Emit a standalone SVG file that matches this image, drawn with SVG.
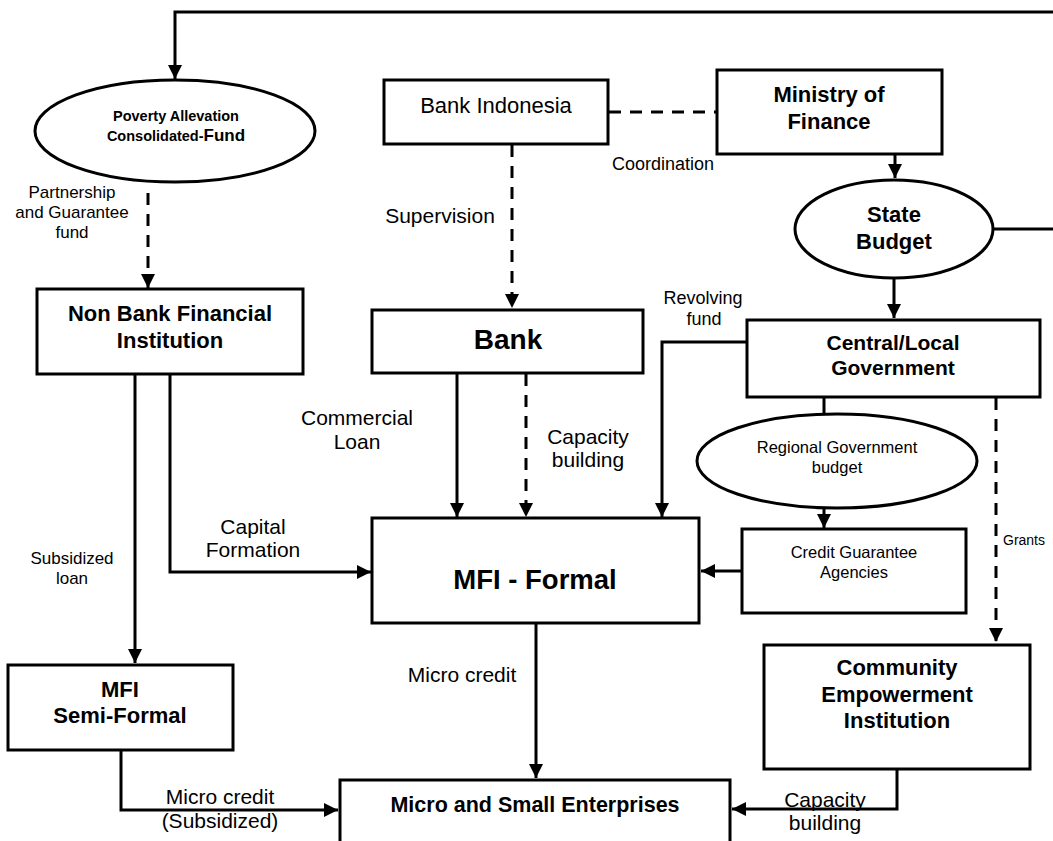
<svg xmlns="http://www.w3.org/2000/svg" width="1053" height="841" viewBox="0 0 1053 841">
<style>
.box{fill:#fff;stroke:#000;stroke-width:3}
.ln{fill:none;stroke:#000;stroke-width:3}
.ds{fill:none;stroke:#000;stroke-width:3;stroke-dasharray:12 9}
text{font-family:"Liberation Sans",Arial,sans-serif;fill:#000;text-anchor:middle}
text.st{text-anchor:start}
.b{font-weight:bold}
</style>
<defs>
<marker id="ah" markerUnits="userSpaceOnUse" markerWidth="14" markerHeight="14" refX="14" refY="7" orient="auto">
<path d="M0,0 L14,7 L0,14 z" fill="#000"/>
</marker>
</defs>
<rect width="1053" height="841" fill="#fff"/>
<g id="connectors">
<path class="ln" d="M993,229 H1056 M1056,12 H175 V79" marker-end="url(#ah)"/>
<path class="ds" d="M148,193 V288" marker-end="url(#ah)"/>
<path class="ds" d="M609,112 H717"/>
<path class="ds" d="M512,145 V308" marker-end="url(#ah)"/>
<path class="ln" d="M895,155 V178" marker-end="url(#ah)"/>
<path class="ln" d="M894,279 V318" marker-end="url(#ah)"/>
<path class="ln" d="M135,375 V663" marker-end="url(#ah)"/>
<path class="ln" d="M170,375 V572 H371" marker-end="url(#ah)"/>
<path class="ln" d="M457,374 V517" marker-end="url(#ah)"/>
<path class="ds" d="M526,374 V517" marker-end="url(#ah)"/>
<path class="ln" d="M747,342 H662 V517" marker-end="url(#ah)"/>
<path class="ln" d="M824,398 V415"/>
<path class="ln" d="M824,508 V528" marker-end="url(#ah)"/>
<path class="ln" d="M742,571 H701" marker-end="url(#ah)"/>
<path class="ds" d="M996,398 V642" marker-end="url(#ah)"/>
<path class="ln" d="M536,624 V778" marker-end="url(#ah)"/>
<path class="ln" d="M121,751 V810 H338" marker-end="url(#ah)"/>
<path class="ln" d="M897,770 V809 H732" marker-end="url(#ah)"/>
</g>
<g id="labels">
<text x="72" y="198" font-size="17">Partnership</text>
<text x="72" y="218" font-size="17">and Guarantee</text>
<text x="72" y="238" font-size="17">fund</text>
<text x="440" y="223" font-size="21">Supervision</text>
<text x="663" y="170" font-size="18">Coordination</text>
<text x="703" y="304" font-size="18">Revolving</text>
<text x="704" y="325" font-size="18">fund</text>
<text x="357" y="425" font-size="21">Commercial</text>
<text x="357" y="449" font-size="21">Loan</text>
<text x="588" y="444" font-size="21">Capacity</text>
<text x="588" y="467" font-size="21">building</text>
<text x="253" y="534" font-size="21">Capital</text>
<text x="253" y="557" font-size="21">Formation</text>
<text x="72" y="564" font-size="17">Subsidized</text>
<text x="72" y="584" font-size="17">loan</text>
<text class="st" x="1003" y="545" font-size="14">Grants</text>
<text x="462" y="682" font-size="21">Micro credit</text>
<text x="220" y="804" font-size="21">Micro credit</text>
<text x="220" y="828" font-size="21">(Subsidized)</text>
<text x="825" y="807" font-size="21">Capacity</text>
<text x="825" y="830" font-size="21">building</text>
</g>
<g id="poverty-fund">
<ellipse class="box" cx="175" cy="131" rx="140" ry="51"/>
<text class="b" x="176" y="121" font-size="14.5">Poverty Allevation</text>
<text class="b" x="176" y="141" font-size="14.5">Consolidated-<tspan font-size="17">Fund</tspan></text>
</g>
<g id="bank-indonesia">
<rect class="box" x="384" y="80" width="224" height="64"/>
<text x="496" y="113" font-size="22">Bank Indonesia</text>
</g>
<g id="ministry">
<rect class="box" x="717" y="70" width="225" height="84"/>
<text class="b" x="829" y="102" font-size="22">Ministry of</text>
<text class="b" x="829" y="129" font-size="22">Finance</text>
</g>
<g id="state-budget">
<ellipse class="box" cx="894" cy="229" rx="99" ry="49"/>
<text class="b" x="894" y="222" font-size="22">State</text>
<text class="b" x="894" y="249" font-size="22">Budget</text>
</g>
<g id="nbfi">
<rect class="box" x="37" y="289" width="266" height="85"/>
<text class="b" x="170" y="321" font-size="22">Non Bank Financial</text>
<text class="b" x="170" y="348" font-size="22">Institution</text>
</g>
<g id="bank">
<rect class="box" x="372" y="310" width="271" height="63"/>
<text class="b" x="508" y="349" font-size="28">Bank</text>
</g>
<g id="government">
<rect class="box" x="747" y="320" width="293" height="77"/>
<text class="b" x="893" y="350" font-size="21">Central/Local</text>
<text class="b" x="893" y="375" font-size="21">Government</text>
</g>
<g id="regional-budget">
<ellipse class="box" cx="837" cy="461" rx="140" ry="47"/>
<text x="837" y="453" font-size="16.5">Regional Government</text>
<text x="837" y="473" font-size="16.5">budget</text>
</g>
<g id="mfi-formal">
<rect class="box" x="372" y="518" width="327" height="105"/>
<text class="b" x="535" y="589" font-size="27.5">MFI - Formal</text>
</g>
<g id="credit-guarantee">
<rect class="box" x="742" y="529" width="224" height="84"/>
<text x="854" y="558" font-size="16.5">Credit Guarantee</text>
<text x="854" y="578" font-size="16.5">Agencies</text>
</g>
<g id="mfi-semi">
<rect class="box" x="8" y="665" width="225" height="85"/>
<text class="b" x="120" y="697" font-size="22">MFI</text>
<text class="b" x="120" y="723" font-size="22">Semi-Formal</text>
</g>
<g id="community">
<rect class="box" x="764" y="645" width="266" height="124"/>
<text class="b" x="897" y="675" font-size="22">Community</text>
<text class="b" x="897" y="702" font-size="22">Empowerment</text>
<text class="b" x="897" y="728" font-size="22">Institution</text>
</g>
<g id="mse">
<rect class="box" x="340" y="780" width="390" height="75"/>
<text class="b" x="535" y="812" font-size="21.5">Micro and Small Enterprises</text>
</g>
</svg>
